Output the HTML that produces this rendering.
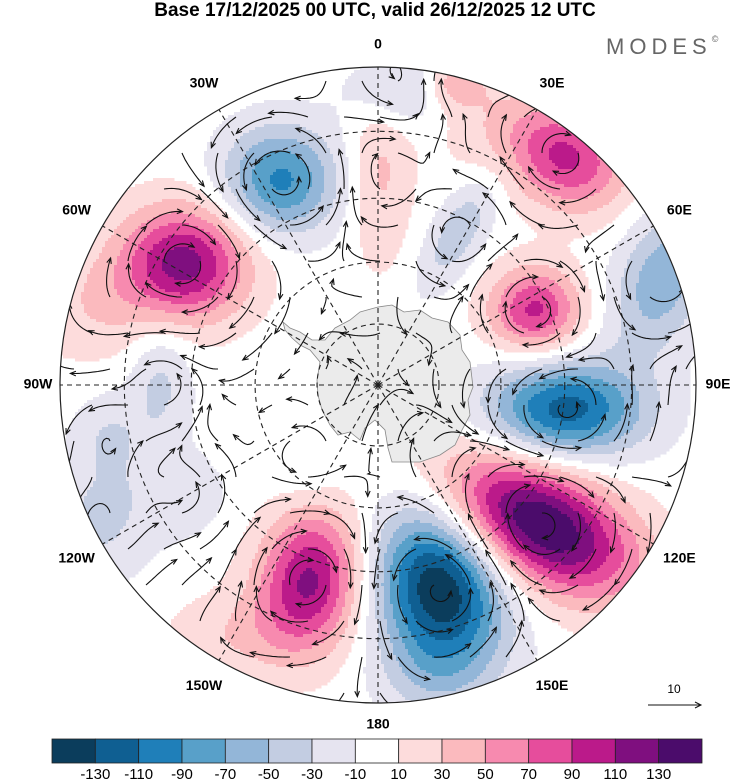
<!DOCTYPE html>
<html><head><meta charset="utf-8">
<style>
html,body{margin:0;padding:0;background:#fff;}
body{width:750px;height:783px;position:relative;overflow:hidden;font-family:"Liberation Sans",sans-serif;}
#title{position:absolute;left:0;width:750px;top:0;text-align:center;font-weight:bold;font-size:19px;}
#logo{position:absolute;left:606px;top:34px;font-size:22px;letter-spacing:5px;color:#666;}
svg{position:absolute;left:0;top:0;}
.ll{font-weight:bold;font-size:14px;text-anchor:middle;dominant-baseline:middle;}
</style></head><body>
<div id="title">Base 17/12/2025 00 UTC, valid 26/12/2025 12 UTC</div>
<div id="logo">MODES<span style="font-size:9px;vertical-align:top;letter-spacing:0">©</span></div>
<svg id="s" width="750" height="783"></svg>
<script>
// ---- data ----
const blobLon=[-58,-25.5,4.3,40.5,69.6,64.5,97.6,130.8,163,-160.8,-88.7,-115.9,27.9,0.5,14,-100,-140,30,-150,170,-75,-120];
const blobLat=[-53.6,-54,-44,-44,-43,-62,-59.7,-55.9,-56,-57,-55.3,-42,-62,-56,-42,-47,-72,-45,-45,-44,-44,-55];
const blobAmp=[120,-95,-45,75,-65,95,-120,155,-150,115,-35,-35,-45,35,45,-25,-15,30,25,-25,25,-20];
const blobSx=[45,40,36,42,32,32,55,72,44,36,22,40,18,22,22,25,25,60,50,40,45,30];
const blobSy=[40,38,26,34,55,30,34,40,58,50,45,50,45,65,18,30,25,40,30,30,40,30];
const blobRot=[0,0,0,30,20,0,0,28,-15,10,0,30,30,0,0,0,0,20,0,0,0,0];
const levels=[-130,-110,-90,-70,-50,-30,-10,10,30,50,70,90,110,130];
const colors=["#0b3d5c","#0f5f92","#1f7fb9","#58a0c9","#93b6d8","#c3cde2","#e6e4f0","#ffffff","#fddcdc","#fbbabe","#f78aaf","#e64d9c","#bb1a8a","#7f0f7f","#4b0c6b"];
const lonLabels=["0","30E","60E","90E","120E","150E","180","150W","120W","90W","60W","30W"];
const latCircles=[-80,-70,-60,-50];
// ---- projection ----
const CX=378,CY=385,R=318,K=697;
function proj(lon,lat){const rr=K*Math.tan((90+lat)/2*Math.PI/180);const a=lon*Math.PI/180;return [CX+rr*Math.sin(a),CY-rr*Math.cos(a)];}
const NS="http://www.w3.org/2000/svg";
const svg=document.getElementById('s');
function mk(t,at,p){const e=document.createElementNS(NS,t);for(const k in at)e.setAttribute(k,at[k]);(p||svg).appendChild(e);return e;}
const B=blobLon.map((l,i)=>{const p=proj(l,blobLat[i]);const r=blobRot[i]*Math.PI/180;return {x:p[0],y:p[1],a:blobAmp[i],sx:blobSx[i],sy:blobSy[i],c:Math.cos(r),s:Math.sin(r)};});
function field(x,y){let v=0,u=0,w=0;for(const b of B){const dx=x-b.x,dy=y-b.y;const px=(dx*b.c+dy*b.s)/b.sx,py=(-dx*b.s+dy*b.c)/b.sy;const g=b.a*Math.exp(-(px*px+py*py)/2);v+=g;u+=-g*dy/(b.sx*b.sy);w+=g*dx/(b.sx*b.sy);}return [v,u,w];}
function col(v){let i=0;while(i<levels.length&&v>levels[i])i++;return colors[i];}
const defs=mk('defs',{});const cp=mk('clipPath',{id:'cc'},defs);mk('circle',{cx:CX,cy:CY,r:R},cp);
const gf=mk('g',{'clip-path':'url(#cc)'});
const st=3;
for(let y=CY-R;y<CY+R;y+=st){let run=null,rx=0;for(let x=CX-R;x<=CX+R;x+=st){const c=(x<CX+R)?col(field(x+st/2,y+st/2)[0]):null;if(c!==run){if(run&&run!=="#ffffff"){const r=mk('rect',{x:rx,y:y,width:x-rx+0.5,height:st+0.5,fill:run},gf);}run=c;rx=x;}}}
const ant="M378,307 L392,305 L404,312 L420,310 L432,318 L448,322 L460,335 L462,350 L470,362 L473,387 L468,400 L470,415 L462,430 L455,445 L440,455 L420,462 L392,462 L388,448 L385,430 L375,420 L365,428 L360,440 L350,432 L338,435 L330,425 L322,410 L318,395 L317,380 L320,362 L310,350 L300,345 L292,338 L285,330 L283,322 L290,328 L300,332 L312,340 L325,340 L335,328 L350,320 L360,312 Z";
const an=mk('path',{d:ant,fill:'#ebebeb',stroke:'#888','stroke-width':0.8},gf);
const gg=mk('g',{'clip-path':'url(#cc)',stroke:'#222','stroke-width':1.1,'stroke-dasharray':'5,4',fill:'none'});
latCircles.forEach(l=>{const p=proj(0,l);const c=mk('circle',{cx:CX,cy:CY,r:CY-p[1]},gg);});
for(let i=0;i<12;i++){const p=proj(i*30,-30);const m=mk('line',{x1:CX,y1:CY,x2:p[0],y2:p[1]},gg);}
const gs=mk('g',{'clip-path':'url(#cc)',stroke:'#111','stroke-width':1.1,fill:'none'});
for(let y0=CY-R+14;y0<CY+R;y0+=36){for(let x0=CX-R+14+((Math.round(y0/36))%2)*18;x0<CX+R;x0+=36){if(Math.hypot(x0-CX,y0-CY)>R-8)continue;let pts=[[x0,y0]],x=x0,y=y0;let f=field(x,y);let sp=Math.hypot(f[1],f[2]);let L=Math.min(38,9+sp*350);let n=Math.ceil(L/2.5);for(let k=0;k<n;k++){f=field(x,y);let m=Math.hypot(f[1],f[2]);let u,w;if(m<0.002){u=0.7;w=0.3;}else{u=f[1]/m;w=f[2]/m;}x+=u*2.5;y+=w*2.5;pts.push([x,y]);}
const p=mk('path',{d:'M'+pts.map(q=>q[0].toFixed(1)+','+q[1].toFixed(1)).join(' L')},gs);
const a=pts[pts.length-1],b=pts[pts.length-2];const ang=Math.atan2(a[1]-b[1],a[0]-b[0]);
const h=mk('path',{d:`M${a[0]-6*Math.cos(ang-0.4)},${a[1]-6*Math.sin(ang-0.4)} L${a[0]},${a[1]} L${a[0]-6*Math.cos(ang+0.4)},${a[1]-6*Math.sin(ang+0.4)}`},gs);}}
const bd=mk('circle',{cx:CX,cy:CY,r:R,fill:'none',stroke:'#222','stroke-width':1.2});
lonLabels.forEach((t,i)=>{const a=i*30*Math.PI/180;const rr=(i%3===0)?R+22:R+30;const e=mk('text',{x:CX+rr*Math.sin(a),y:CY-rr*Math.cos(a),class:'ll'});e.textContent=t;});
const vl=mk('g',{});
mk('line',{x1:648,y1:705,x2:701,y2:705,stroke:'#111','stroke-width':1.1},vl);mk('path',{d:'M695,702 L701,705 L695,708',stroke:'#111',fill:'none'},vl);
const vt=mk('text',{x:674,y:693,'font-size':12,'text-anchor':'middle'},vl);vt.textContent='10';
const cb=mk('g',{});
const X0=52,X1=702,w=(X1-X0)/colors.length;
colors.forEach((c,i)=>{const r=mk('rect',{x:X0+i*w,y:739,width:w,height:24,fill:c,stroke:'#222','stroke-width':0.8},cb);});
levels.forEach((l,i)=>{const t=mk('text',{x:X0+(i+1)*w,y:779,'font-size':15,'text-anchor':'middle'},cb);t.textContent=l;});
</script>
</body></html>
